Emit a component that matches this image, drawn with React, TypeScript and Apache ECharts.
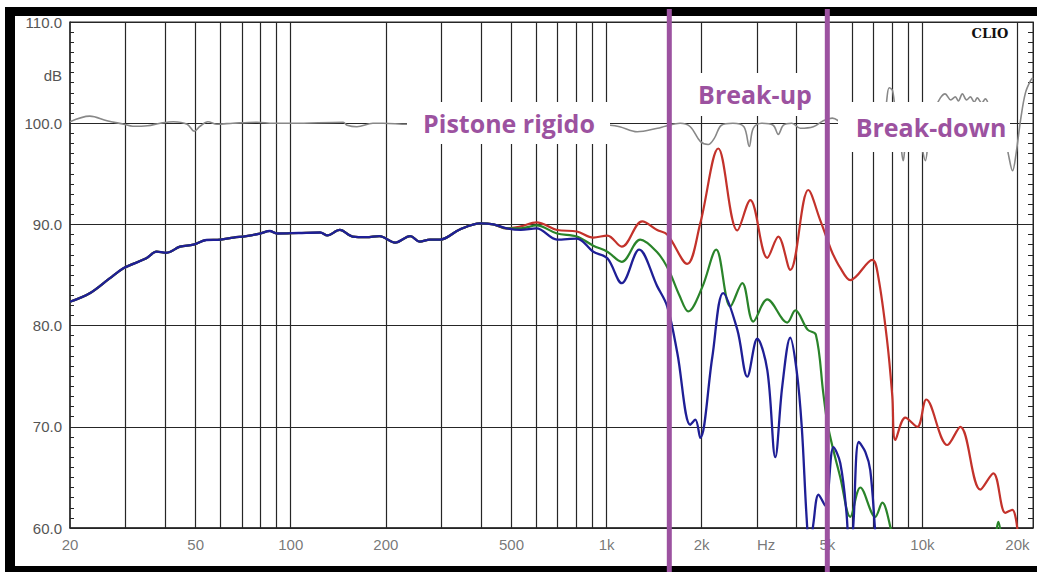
import React, { useEffect, useRef } from "react";
import * as echarts from "echarts";

// vertical grid lines (Hz)
const gridFreqs = [30, 40, 50, 60, 70, 80, 90, 100, 200, 300, 400, 500, 600, 700, 800, 900, 1000, 2000, 3000, 4000, 5000, 6000, 7000, 8000, 9000, 10000, 20000];
// x tick labels
const xTickFreqs = [20, 50, 100, 200, 500, 1000, 2000, 3200, 5000, 10000, 20000];
const xTickNames = ["20", "50", "100", "200", "500", "1k", "2k", "Hz", "5k", "10k", "20k"];

// common low-frequency part (all three curves coincide)
const commonFreq = [20, 23.1, 26.7, 29.5, 31.7, 34.9, 37.6, 40.4, 44.6, 49.2, 54, 59.9, 65.9, 72.3, 79.9, 85.8, 90.5, 106, 124, 130.6, 143, 157, 173.5, 191, 214, 239, 256, 276, 297, 343, 398, 438, 483];
const commonLevel = [82.36, 83.2, 84.67, 85.66, 86.1, 86.65, 87.3, 87.2, 87.8, 88.0, 88.46, 88.5, 88.7, 88.85, 89.1, 89.35, 89.1, 89.15, 89.2, 88.92, 89.45, 88.8, 88.75, 88.85, 88.2, 88.85, 88.3, 88.5, 88.5, 89.5, 90.1, 90.0, 89.6];

// red (on axis)
const redFreq = [535, 600, 697, 805, 908, 1006, 1117, 1297, 1446, 1556, 1800, 1980, 2258, 2594, 2852, 3228, 3497, 3817, 4353, 4750, 5000, 5185, 5497, 5912, 6942, 7252, 7746, 8032, 8210, 8830, 9636, 10290, 11996, 13184, 15258, 16776, 18310, 19268, 20000];
const redLevel = [89.8, 90.2, 89.45, 89.3, 88.7, 88.9, 87.8, 90.3, 89.45, 89.0, 86.1, 90.1, 97.5, 89.4, 92.4, 86.7, 88.8, 85.5, 93.4, 90.4, 88.5, 87.2, 85.7, 84.5, 86.5, 84.8, 78.3, 73.0, 68.7, 70.9, 70.0, 72.7, 68.2, 70.0, 63.8, 65.4, 61.5, 61.8, 59.8];

// green
const greenFreq = [535, 600, 697, 805, 908, 1006, 1117, 1278, 1442, 1567, 1700, 1814, 2009, 2224, 2465, 2690, 2914, 3228, 3734, 3960, 4330, 4600, 4856, 5000, 5224, 5497, 5912, 6360, 7094, 7466, 7916, 8400, 10000, 15000, 16800, 17400, 18000, 20000];
const greenLevel = [89.6, 89.9, 89.1, 88.8, 87.9, 87.3, 86.3, 88.5, 87.3, 85.6, 83.0, 81.4, 83.8, 87.5, 81.9, 84.2, 80.4, 82.6, 80.3, 81.5, 79.6, 79.1, 73.3, 70.4, 67.7, 65.0, 61.1, 64.0, 61.1, 62.5, 60.1, 56, 52, 54, 58, 60.6, 58, 52];

// blue
const blueFreq = [535, 600, 697, 805, 908, 1006, 1117, 1268, 1446, 1556, 1675, 1841, 1910, 1980, 2162, 2340, 2594, 2790, 3000, 3228, 3422, 3600, 3817, 4000, 4150, 4300, 4400, 4520, 4690, 4927, 5230, 5497, 5750, 5900, 6050, 6290, 6600, 6840, 7094, 7400];
const blueLevel = [89.45, 89.6, 88.5, 88.6, 87.3, 86.65, 84.2, 87.5, 83.9, 81.9, 77.3, 70.2, 70.7, 68.9, 76.9, 83.2, 79.6, 74.95, 78.7, 75.6, 67.0, 74.0, 78.8, 75.5, 70, 61, 57.5, 60.5, 63.3, 62.2, 68.0, 66.4, 61.5, 56, 60.5, 68.5, 67.5, 65.7, 59.5, 52];

// gray trace around 100 dB
const grayFreq = [20, 23.1, 26.2, 29.6, 31.6, 35.2, 38.6, 42.5, 47, 49.5, 51.6, 54.7, 58.4, 65.6, 78.2, 87.9, 101.6, 146.6, 150.8, 162, 182, 196, 234, 300, 500, 800, 1026, 1100, 1250, 1450, 1534, 1710, 1841, 1980, 2099, 2193, 2310, 2513, 2722, 2830, 2914, 3090, 3370, 3497, 3630, 3860, 4106, 4514, 4856, 5185, 5600, 6500, 7400, 7650, 7850, 8050, 8250, 8500, 8694, 8900, 9300, 9800, 10216, 10500, 11000, 11400, 11800, 12300, 12716, 13000, 13384, 13800, 14190, 14600, 14930, 15400, 15826, 16300, 16900, 17600, 18300, 18700, 19300, 19800, 20500, 21200, 22000, 22400];
const grayLevel = [100.15, 100.7, 100.25, 99.9, 99.7, 99.75, 100.0, 100.15, 99.9, 99.2, 99.7, 100.15, 99.9, 100.0, 100.1, 100.0, 100.0, 100.1, 99.8, 99.65, 100.0, 100.0, 99.9, 100, 100, 100, 99.8, 99.65, 99.15, 99.5, 99.7, 100.0, 99.65, 98.2, 97.9, 98.5, 99.8, 100.0, 99.65, 97.7, 99.5, 100.0, 99.8, 98.9, 99.8, 100.0, 99.5, 99.65, 100.25, 100.5, 100.0, 99.5, 100, 101.5, 103.5, 103.2, 100.5, 98.5, 96.3, 98.5, 99.5, 98.5, 96.3, 99, 101.5, 102.5, 102.9, 102.3, 102.6, 102.2, 102.9, 102.3, 102.6, 102.1, 102.5, 102.0, 102.4, 101.5, 99, 97.5, 98.5, 97, 95.3, 97, 100.5, 103, 104.2, 104.5];

const breakUpStart = 1580;
const breakDownStart = 5000;

const PURPLE = "#9C52A0";
const GRID = "#262626";
const LABEL = "#555";

const pairs = (f: number[], v: number[]) => f.map((x, i) => [x, v[i]]);

export default function App() {
  const ref = useRef<HTMLDivElement>(null);
  useEffect(() => {
    document.body.style.margin = "0";
    if (!ref.current) return;
    const chart = echarts.init(ref.current, undefined, { renderer: "svg" });
    const curve = (name: string, color: string, data: number[][], width: number) => ({
      name,
      type: "line",
      data,
      showSymbol: false,
      symbol: "none",
      smooth: 0.35,
      clip: true,
      z: 10,
      lineStyle: { color, width },
      itemStyle: { color },
      silent: true,
    });
    chart.setOption({
      animation: false,
      grid: { left: 70, right: 4, top: 22, bottom: 44, show: true, borderColor: GRID, borderWidth: 1 },
      xAxis: {
        type: "log",
        logBase: 10,
        min: 20,
        max: 22400,
        axisLine: { show: true, lineStyle: { color: GRID, width: 1.5 } },
        axisTick: { show: false },
        axisLabel: { show: false },
        splitLine: { show: false },
        minorTick: { show: false },
      },
      yAxis: [
        {
          type: "value",
          min: 60,
          max: 110,
          interval: 10,
          position: "left",
          axisLine: { show: true, lineStyle: { color: GRID, width: 1.5 } },
          axisTick: { show: true, inside: true, length: 4, lineStyle: { color: GRID } },
          minorTick: { show: true, splitNumber: 10, length: 4, lineStyle: { color: GRID } },
          axisLabel: {
            formatter: (v: number) => v.toFixed(1),
            fontSize: 15,
            color: LABEL,
            fontFamily: "Liberation Sans, Arial, sans-serif",
            margin: 8,
          },
          splitLine: { show: true, lineStyle: { color: GRID, width: 1.2 } },
        },
        {
          type: "value",
          min: 60,
          max: 110,
          interval: 10,
          position: "right",
          axisLine: { show: true, lineStyle: { color: GRID } },
          axisTick: { show: true, inside: true, length: 5, lineStyle: { color: GRID } },
          minorTick: { show: true, splitNumber: 10, length: 5, lineStyle: { color: GRID } },
          axisLabel: { show: false },
          splitLine: { show: false },
        },
      ],
      series: [
        {
          name: "grid",
          type: "line",
          data: [[20, 60]],
          showSymbol: false,
          symbol: "none",
          lineStyle: { width: 0 },
          silent: true,
          z: 1,
          markLine: {
            silent: true,
            z: 1,
            symbol: ["none", "none"],
            label: { show: false },
            lineStyle: { color: GRID, width: 1.2, type: "solid" },
            emphasis: { disabled: true },
            data: gridFreqs.map((f) => ({ xAxis: f })),
          },
        },
        curve("gray", "#888888", pairs(grayFreq, grayLevel), 1.6),
        curve("red", "#C3322B", pairs(commonFreq, commonLevel).concat(pairs(redFreq, redLevel)), 2.2),
        curve("green", "#2A842A", pairs(commonFreq, commonLevel).concat(pairs(greenFreq, greenLevel)), 2.2),
        curve("blue", "#1F1F96", pairs(commonFreq, commonLevel).concat(pairs(blueFreq, blueLevel)), 2.3),
        {
          name: "xlabels",
          type: "scatter",
          data: xTickFreqs.map((f) => [f, 60]),
          symbolSize: 1,
          itemStyle: { color: "rgba(0,0,0,0)" },
          silent: true,
          clip: false,
          z: 5,
          label: {
            show: true,
            position: "bottom",
            distance: 8,
            formatter: (p: any) => xTickNames[p.dataIndex],
            fontSize: 15,
            color: LABEL,
            fontFamily: "Liberation Sans, Arial, sans-serif",
          },
        },
      ],
    });

    const px1 = chart.convertToPixel({ xAxisIndex: 0 }, breakUpStart) as number;
    const px2 = chart.convertToPixel({ xAxisIndex: 0 }, breakDownStart) as number;
    const textStyle = (text: string, x: number, y: number) => ({
      text,
      x,
      y,
      font: 'bold 25px "Open Sans", sans-serif',
      fill: PURPLE,
      textAlign: "center",
      textVerticalAlign: "middle",
      align: "center",
      verticalAlign: "middle",
    });
    chart.setOption({
      graphic: [
        { type: "rect", z: 50, shape: { x: 5, y: 7, width: 1032, height: 9 }, style: { fill: "#000" } },
        { type: "rect", z: 50, shape: { x: 5, y: 7, width: 10, height: 565 }, style: { fill: "#000" } },
        { type: "rect", z: 50, shape: { x: 5, y: 566, width: 1032, height: 6 }, style: { fill: "#000" } },
        { type: "rect", z: 60, shape: { x: 407, y: 102, width: 203, height: 42 }, style: { fill: "#fff" } },
        { type: "rect", z: 60, shape: { x: 690, y: 73, width: 132, height: 43 }, style: { fill: "#fff" } },
        { type: "rect", z: 60, shape: { x: 838, y: 102, width: 172, height: 50 }, style: { fill: "#fff" } },
        { type: "text", z: 70, style: textStyle("Pistone rigido", 509, 123) },
        { type: "text", z: 70, style: textStyle("Break-up", 755, 94) },
        { type: "text", z: 70, style: textStyle("Break-down", 931, 127) },
        {
          type: "text",
          z: 70,
          style: {
            text: "dB",
            x: 62,
            y: 75,
            font: '15px "Liberation Sans", Arial, sans-serif',
            fill: LABEL,
            textAlign: "right",
            textVerticalAlign: "middle",
            align: "right",
            verticalAlign: "middle",
          },
        },
        {
          type: "text",
          z: 70,
          style: {
            text: "CLIO",
            x: 990,
            y: 33,
            font: 'bold 13px "DejaVu Serif", serif',
            fill: "#111",
            textAlign: "center",
            textVerticalAlign: "middle",
            align: "center",
            verticalAlign: "middle",
          },
        },
        { type: "line", z: 80, shape: { x1: px1, y1: 9, x2: px1, y2: 572 }, style: { stroke: PURPLE, lineWidth: 5 } },
        { type: "line", z: 80, shape: { x1: px2, y1: 9, x2: px2, y2: 572 }, style: { stroke: PURPLE, lineWidth: 5 } },
      ],
    });
    return () => chart.dispose();
  }, []);
  return <div ref={ref} style={{ width: 1037, height: 572 }} />;
}
